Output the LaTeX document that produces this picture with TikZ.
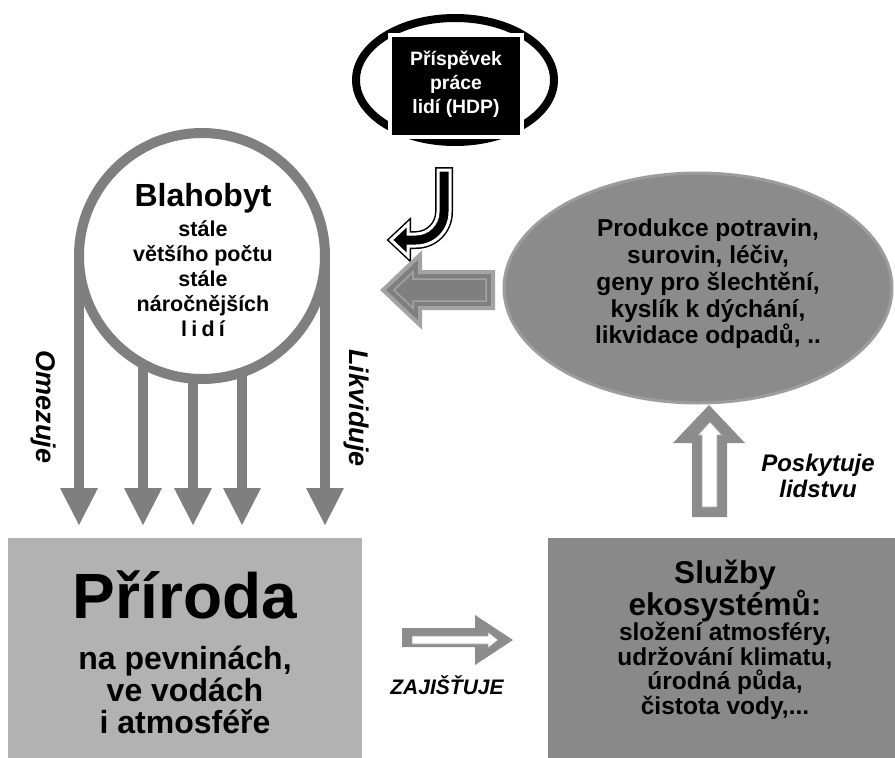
\documentclass[tikz,border=0pt]{standalone}
\usepackage{fontspec}
\setmainfont{Liberation Sans}
\usetikzlibrary{arrows.meta}
\definecolor{garrow}{HTML}{7F7F7F}
\definecolor{gellfill}{HTML}{8B8B8B}
\definecolor{gellline}{HTML}{9D9D9D}
\definecolor{gboxl}{HTML}{B2B2B2}
\definecolor{gboxr}{HTML}{898989}
\definecolor{gblock}{HTML}{8C8C8C}
\definecolor{gblockline}{HTML}{A3A3A3}
\begin{document}
\begin{tikzpicture}[x=1pt,y=-1pt,
  legline/.style={draw=garrow, line width=10pt, -{Triangle[width=38pt,length=37pt,line width=0pt]}},
  bf/.style 2 args={font=\bfseries\fontsize{#1}{#2}\selectfont, align=center, inner sep=0pt},
  bfi/.style 2 args={font=\bfseries\itshape\fontsize{#1}{#2}\selectfont, align=center, inner sep=0pt},
]
\useasboundingbox[fill=white] (0,0) rectangle (895,758);

% ---- top ellipse with HDP box
\draw[black, line width=8pt, fill=white] (455,80) ellipse [x radius=99, y radius=62];
\node[draw=white, line width=3.5pt, fill=black, minimum width=132pt, minimum height=102pt, inner sep=0pt] (hdpbox) at (456,86) {};
\node[bf={19.4}{24}, text=white] (hdp) at (456,84) {Příspěvek\\práce\\lidí (HDP)};

% ---- curved black arrow
\path[draw=black, line width=6pt, line join=miter]
  (438,170) -- (450,170) -- (450,212) .. controls (450,231) and (435,246) .. (416,246)
  -- (408,246) -- (408,256) -- (391,240) -- (408,224) -- (408,234) -- (416,234)
  .. controls (428,234) and (438,224) .. (438,212) -- cycle;
\path[draw=white, fill=black, line width=3pt, line join=miter]
  (438,170) -- (450,170) -- (450,212) .. controls (450,231) and (435,246) .. (416,246)
  -- (408,246) -- (408,256) -- (391,240) -- (408,224) -- (408,234) -- (416,234)
  .. controls (428,234) and (438,224) .. (438,212) -- cycle;

% ---- gray left arrow
\path[fill=garrow, draw=gblockline, line width=4pt, line join=miter]
  (493,272) -- (420,272) -- (420,255) -- (383,290) -- (420,325) -- (420,308) -- (493,308) -- cycle;
\path[draw=gblockline, line width=1.5pt, line join=miter]
  (486,279) -- (413,279) -- (413,272) -- (394,290) -- (413,308) -- (413,301) -- (486,301) -- cycle;

% ---- Blahobyt circle
\draw[draw=garrow, line width=10pt, fill=white] (202,256) circle [radius=123];
\coordinate (cl) at (79,256);
\coordinate (cr) at (325,256);
\coordinate (c1) at (143,362);
\coordinate (c2) at (193,376);
\coordinate (c3) at (242,376);
\coordinate (t0) at (79,525);
\coordinate (t1) at (143,525);
\coordinate (t2) at (193,525);
\coordinate (t3) at (242,525);
\coordinate (t4) at (325,525);
\draw[legline] (cl) -- (t0);
\draw[legline] (c1) -- (t1);
\draw[legline] (c2) -- (t2);
\draw[legline] (c3) -- (t3);
\draw[legline] (cr) -- (t4);
\node[bf={32}{34}] (blaho) at (203,198) {Blahobyt};
\node[bf={21.5}{25}] (blahotxt) at (203,279) {stále\\většího počtu\\stále\\náročnějších\\{\addfontfeature{LetterSpace=20}lidí}};

\node[bfi={27}{27}, rotate=-90] (omez) at (43,407) {Omezuje};
\node[bfi={27}{27}, rotate=-90] (likv) at (356,408) {Likviduje};

% ---- right ellipse
\draw[draw=gellline, line width=3pt, fill=gellfill] (698,288) ellipse [x radius=194, y radius=115];
\node[bf={24.5}{26.7}] (prod) at (708,284) {Produkce potravin,\\surovin, léčiv,\\geny pro šlechtění,\\kyslík k dýchání,\\likvidace odpadů, ..};

% ---- up arrow
\path[fill=gblock] (692,517) -- (727,517) -- (727,443) -- (745,443) -- (709,405) -- (673,443) -- (692,443) -- cycle;
\path[fill=white, draw=gblockline, line width=0.6pt] (702,507) -- (717,507) -- (717,435) -- (722,435) -- (710,422) -- (698,435) -- (702,435) -- cycle;
\node[bfi={24}{26}] (posk) at (818,476) {Poskytuje\\lidstvu};

% ---- bottom boxes
\path[fill=gboxl] (8,538) rectangle (362,758);
\node[bf={64}{64}, anchor=base] (prir) at (185,618) {Příroda};
\node[bf={32}{32}] (prirtxt) at (185,690) {na pevninách,\\ve vodách\\i atmosféře};

\path[fill=gboxr] (548,538) rectangle (895,758);
\node[bf={31.5}{28}] (sluz) at (725,591) {Služby\\ekosystémů:};
\node[bf={24.5}{24.7}] (sluztxt) at (725,671) {složení atmosféry,\\udržování klimatu,\\úrodná půda,\\čistota vody,...};

% ---- ZAJIŠŤUJE arrow
\path[fill=gblock] (402,628) -- (475,628) -- (475,615) -- (513,640) -- (475,665) -- (475,647) -- (402,647) -- cycle;
\path[fill=white, draw=gblockline, line width=0.6pt] (412,636) -- (488,636) -- (488,632) -- (498,640) -- (488,648) -- (488,644) -- (412,644) -- cycle;
\node[bfi={21}{21}] (zaj) at (447,685) {ZAJIŠŤUJE};
\end{tikzpicture}
\end{document}
